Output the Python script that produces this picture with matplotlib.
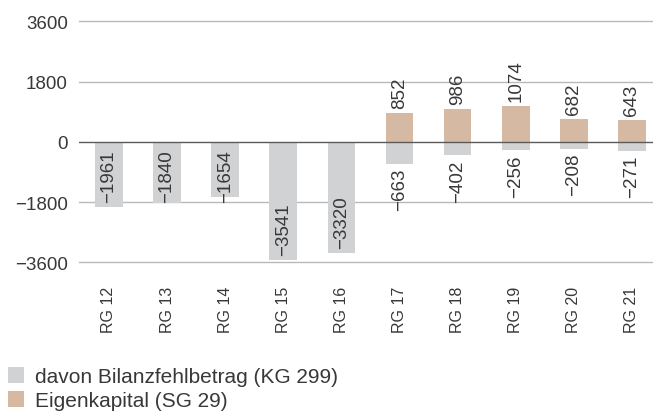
import matplotlib
matplotlib.use("Agg")
import matplotlib.pyplot as plt
from matplotlib.patches import Patch
import numpy as np

categories = ["RG 12", "RG 13", "RG 14", "RG 15", "RG 16",
              "RG 17", "RG 18", "RG 19", "RG 20", "RG 21"]
bilanzfehlbetrag = [-1961, -1840, -1654, -3541, -3320, -663, -402, -256, -208, -271]
eigenkapital = [None, None, None, None, None, 852, 986, 1074, 682, 643]
yticks = [-3600, -1800, 0, 1800, 3600]
ytick_labels = ["\u22123600", "\u22121800", "0", "1800", "3600"]

GRAY = "#d1d2d4"
TAN = "#d6b9a2"
TXT = "#383838"

plt.rcParams["font.family"] = ["Liberation Sans", "DejaVu Sans"]

W, H = 653, 414
fig = plt.figure(figsize=(W / 100, H / 100), dpi=100)
ax = fig.add_axes([79 / W, 1 - 263.3 / H, (653 - 79) / W, (263.3 - 22.3) / H])

x = np.arange(len(categories))
bw = 0.477

# gridlines
for yv in yticks:
    if yv == 0:
        continue
    ax.axhline(yv, color="#b9b9b9", lw=1.0, zorder=0, clip_on=False)

ax.bar(x, bilanzfehlbetrag, width=bw, color=GRAY, zorder=2)
ek_x = [i for i, v in zip(x, eigenkapital) if v is not None]
ek_v = [v for v in eigenkapital if v is not None]
ax.bar(ek_x, ek_v, width=bw, color=TAN, zorder=2)
ax.axhline(0, color="#5a5a5a", lw=1.0, zorder=3)

lab_fs = 13.5
for i, (b, e) in enumerate(zip(bilanzfehlbetrag, eigenkapital)):
    txt = "\u2212" + str(abs(b))
    if e is None:
        if b < -1900:
            ax.annotate(txt, xy=(i, b), xytext=(0, 5), textcoords="offset pixels",
                        rotation=90, ha="center", va="bottom", fontsize=lab_fs, color=TXT, zorder=4)
        else:
            ax.annotate(txt, xy=(i, 0), xytext=(0, -7), textcoords="offset pixels",
                        rotation=90, ha="center", va="top", fontsize=lab_fs, color=TXT, zorder=4)
    else:
        ax.annotate(txt, xy=(i, b), xytext=(0, -4), textcoords="offset pixels",
                    rotation=90, ha="center", va="top", fontsize=lab_fs, color=TXT, zorder=4)
        ax.annotate(str(e), xy=(i, e), xytext=(0, 5), textcoords="offset pixels",
                    rotation=90, ha="center", va="bottom", fontsize=lab_fs, color=TXT, zorder=4)

ax.set_xlim(-0.516, 9.363)
ax.set_ylim(-3600, 3600)
ax.set_yticks(yticks)
ax.set_yticklabels(ytick_labels)
ax.set_xticks(x)
ax.set_xticklabels(categories, rotation=90, va="top", ha="center")
ax.tick_params(axis="y", length=0, pad=8, labelsize=13.5, labelcolor=TXT)
ax.tick_params(axis="x", length=0, pad=17, labelsize=11.5, labelcolor=TXT)
for s in ax.spines.values():
    s.set_visible(False)

handles = [Patch(facecolor=GRAY, edgecolor="none", label="davon Bilanzfehlbetrag (KG 299)"),
           Patch(facecolor=TAN, edgecolor="none", label="Eigenkapital (SG 29)")]
fig.legend(handles=handles, loc="upper left", bbox_to_anchor=(2 / W, 1 - 362 / H),
           frameon=False, fontsize=15, handlelength=0.77, handleheight=0.77,
           handletextpad=0.5, labelspacing=0.25, borderpad=0.3, borderaxespad=0,
           labelcolor=TXT)

fig.savefig("out.png", dpi=100)
